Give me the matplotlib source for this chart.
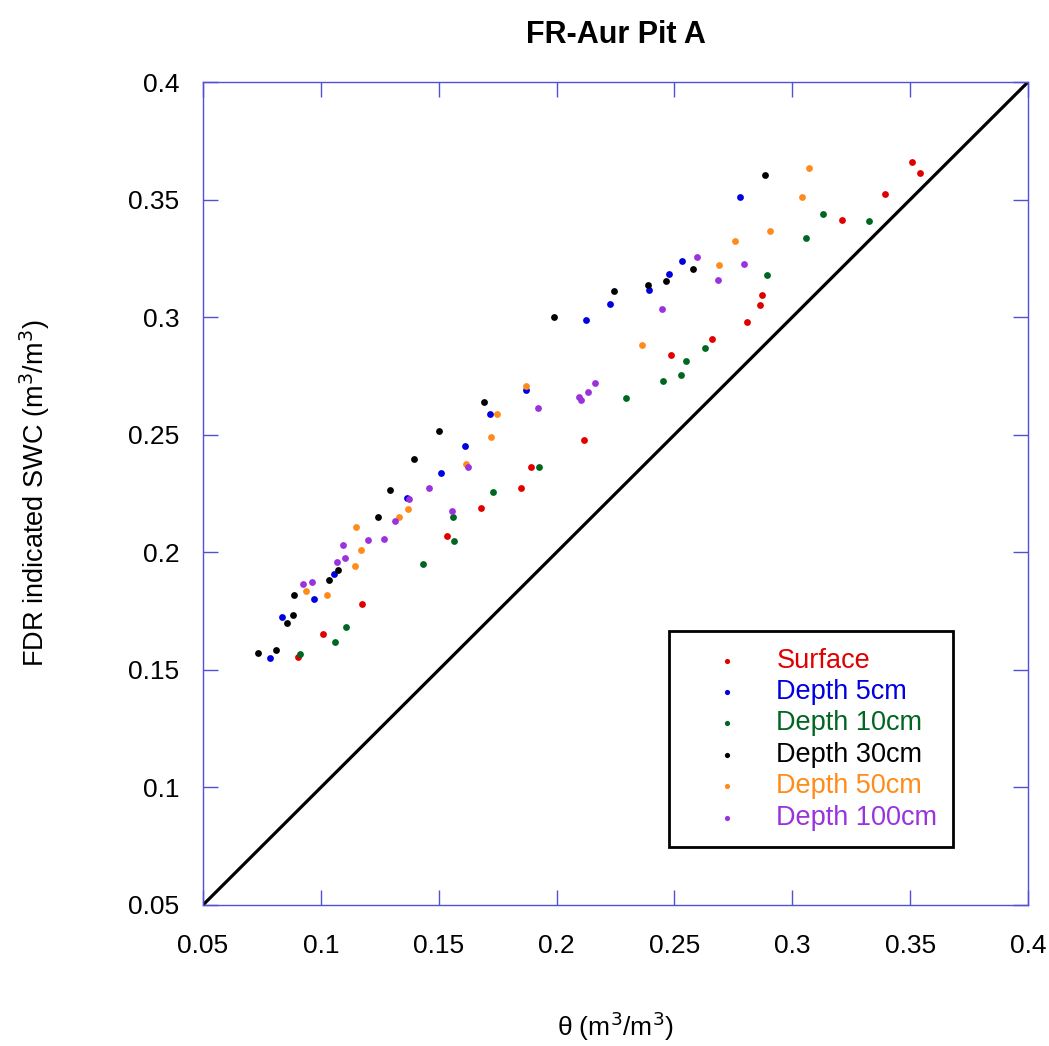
#!/usr/bin/env python3
"""FDR indicated SWC vs theta, FR-Aur Pit A."""
import matplotlib
matplotlib.use("Agg")
import matplotlib.pyplot as plt
import numpy as np

plt.rcParams["font.family"] = ["Liberation Sans", "DejaVu Sans"]

# theta (x) and FDR SWC (y) per depth
surface_x = [0.3508, 0.3542, 0.3394, 0.3211, 0.2870, 0.2863, 0.2808, 0.2660, 0.2487,
             0.2118, 0.1892, 0.1849, 0.1679, 0.1534, 0.1176, 0.1008, 0.0903]
surface_y = [0.3660, 0.3613, 0.3524, 0.3413, 0.3095, 0.3050, 0.2980, 0.2907, 0.2839,
             0.2476, 0.2361, 0.2274, 0.2189, 0.2068, 0.1781, 0.1653, 0.1554]

d5_x = [0.0783, 0.0835, 0.0972, 0.1057, 0.1367, 0.1508, 0.1613, 0.1716, 0.1869,
        0.2125, 0.2225, 0.2391, 0.2476, 0.2532, 0.2778]
d5_y = [0.1551, 0.1726, 0.1801, 0.1907, 0.2232, 0.2336, 0.2453, 0.2589, 0.2691,
        0.2988, 0.3056, 0.3114, 0.3182, 0.3237, 0.3510]

d10_x = [0.0913, 0.1059, 0.1105, 0.1435, 0.1565, 0.1561, 0.1732, 0.1927, 0.2296,
         0.2452, 0.2527, 0.2549, 0.2630, 0.2893, 0.3058, 0.3132, 0.3324]
d10_y = [0.1567, 0.1618, 0.1683, 0.1950, 0.2048, 0.2150, 0.2255, 0.2364, 0.2657,
         0.2728, 0.2754, 0.2812, 0.2870, 0.3179, 0.3338, 0.3439, 0.3409]

d30_x = [0.0732, 0.0810, 0.0855, 0.0881, 0.0887, 0.1036, 0.1071, 0.1241, 0.1293,
         0.1395, 0.1500, 0.1693, 0.1989, 0.2244, 0.2388, 0.2464, 0.2578, 0.2883]
d30_y = [0.1570, 0.1583, 0.1699, 0.1734, 0.1819, 0.1882, 0.1923, 0.2151, 0.2265,
         0.2396, 0.2514, 0.2638, 0.3000, 0.3111, 0.3137, 0.3154, 0.3205, 0.3604]

d50_x = [0.0936, 0.1026, 0.1144, 0.1169, 0.1149, 0.1332, 0.1370, 0.1616, 0.1723,
         0.1746, 0.1869, 0.2364, 0.2691, 0.2756, 0.2906, 0.3041, 0.3071]
d50_y = [0.1836, 0.1819, 0.1940, 0.2011, 0.2106, 0.2149, 0.2184, 0.2375, 0.2489,
         0.2589, 0.2706, 0.2880, 0.3222, 0.3325, 0.3366, 0.3510, 0.3633]

d100_x = [0.0923, 0.0961, 0.1069, 0.1101, 0.1094, 0.1201, 0.1267, 0.1315, 0.1374,
          0.1458, 0.1558, 0.1623, 0.1923, 0.2095, 0.2105, 0.2135, 0.2163, 0.2449,
          0.2595, 0.2685, 0.2795]
d100_y = [0.1866, 0.1875, 0.1957, 0.1975, 0.2031, 0.2051, 0.2056, 0.2131, 0.2226,
          0.2272, 0.2177, 0.2362, 0.2615, 0.2661, 0.2647, 0.2683, 0.2721, 0.3033,
          0.3254, 0.3159, 0.3225]

labels = ["Surface", "Depth 5cm", "Depth 10cm", "Depth 30cm", "Depth 50cm", "Depth 100cm"]
colors = ["#e00000", "#0000e0", "#006622", "#000000", "#ff8c1a", "#9933dd"]
series = [(surface_x, surface_y), (d5_x, d5_y), (d10_x, d10_y),
          (d30_x, d30_y), (d50_x, d50_y), (d100_x, d100_y)]

ticks = [0.05, 0.1, 0.15, 0.2, 0.25, 0.3, 0.35, 0.4]
tick_labels = ["0.05", "0.1", "0.15", "0.2", "0.25", "0.3", "0.35", "0.4"]
one_to_one = [0.05, 0.4]

fig = plt.figure(figsize=(10.49, 10.46), dpi=100)
ax = fig.add_axes([0.1935, 0.1348, 0.7865, 0.7868])

ax.plot(one_to_one, one_to_one, color="black", lw=2.3, zorder=2)
for (x, y), lab, col in zip(series, labels, colors):
    ax.scatter(x, y, s=24, color=col, label=lab, zorder=3, linewidths=0)

ax.set_xlim(0.05, 0.4)
ax.set_ylim(0.05, 0.4)
ax.set_xticks(ticks, labels=tick_labels)
ax.set_yticks(ticks, labels=tick_labels)
frame = "#5050d8"
for sp in ax.spines.values():
    sp.set_color(frame)
    sp.set_linewidth(1.0)
ax.tick_params(direction="in", length=11, width=1, color=frame,
               top=True, right=True, labelsize=19)
ax.tick_params(axis="x", pad=21)
ax.tick_params(axis="y", pad=17)

ax.set_title("FR-Aur Pit A", fontsize=22, fontweight="bold", pad=28)
ax.set_xlabel(r"θ (m$^3$/m$^3$)", fontsize=19, labelpad=37)
ax.set_ylabel(r"FDR indicated SWC (m$^3$/m$^3$)", fontsize=19.5, labelpad=55)

leg = ax.legend(loc="lower left", bbox_to_anchor=(0.565, 0.0705, 0.344, 0.2635),
                mode="expand", fontsize=19.5, scatterpoints=1, handlelength=3.1,
                handletextpad=0.26, labelspacing=0.2, borderpad=0.6,
                fancybox=False, framealpha=1, borderaxespad=0)
leg.get_frame().set_edgecolor("black")
leg.get_frame().set_linewidth(2)
for txt, col in zip(leg.get_texts(), colors):
    txt.set_color(col)
for h in leg.legend_handles:
    h.set_sizes([14])

fig.savefig("out.png", dpi=100)
plt.close(fig)
